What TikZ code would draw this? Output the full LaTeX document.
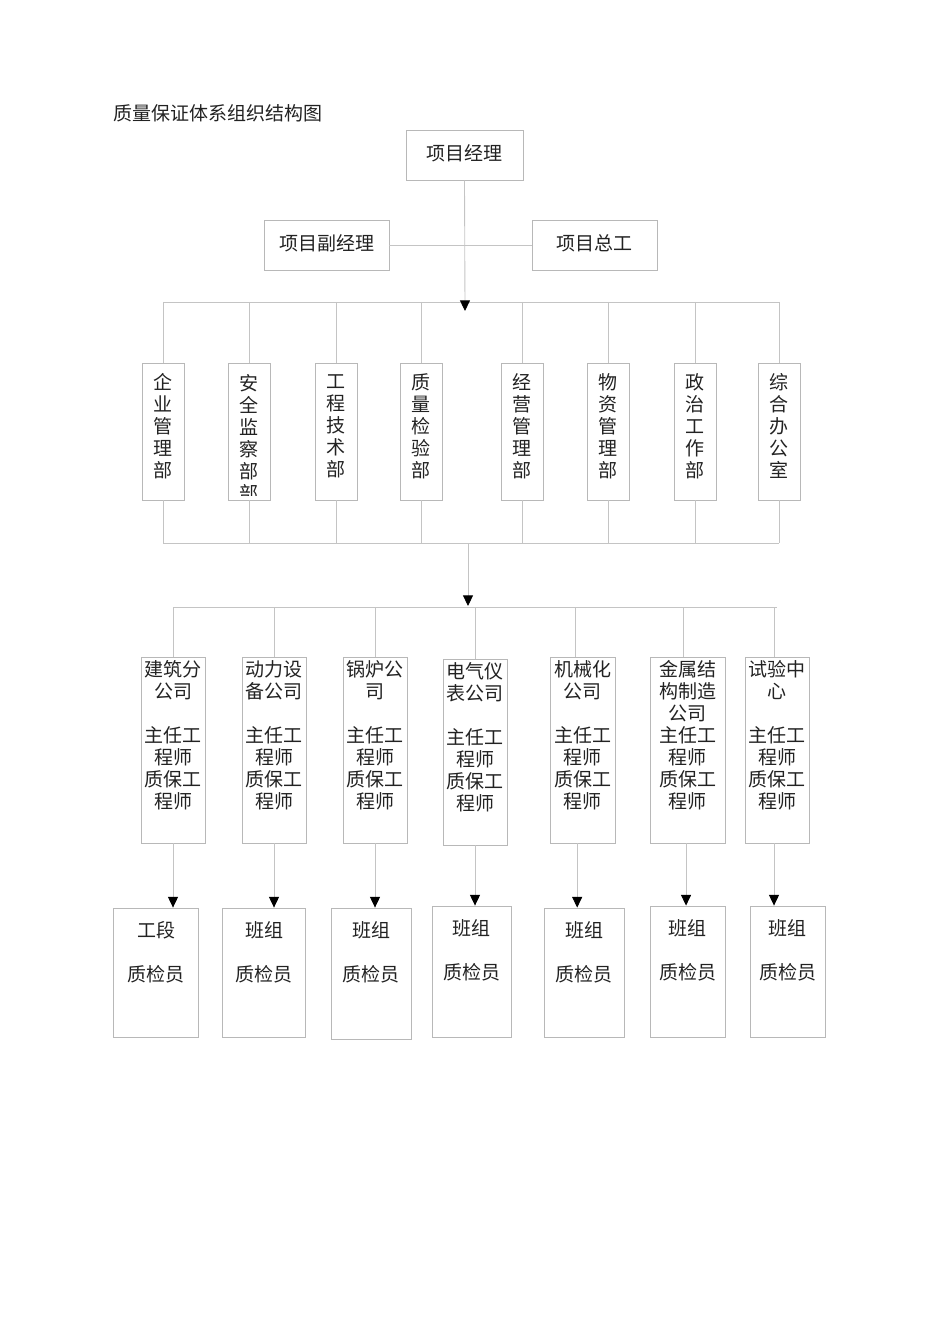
\documentclass[tikz,border=0pt]{standalone}
\usepackage{fontspec}
\setmainfont{Noto Sans CJK SC}
\usetikzlibrary{fit,arrows.meta}
\definecolor{boxgray}{HTML}{B8B8B8}
\definecolor{linegray}{HTML}{C4C4C4}
\definecolor{ink}{HTML}{222222}
\tikzset{
  box/.style={draw=boxgray, line width=0.65pt, inner sep=0pt},
  txt/.style={text=ink, inner sep=0pt, align=center, font=\fontsize{14.25pt}{16.5pt}\selectfont},
  conn/.style={draw=linegray, line width=0.65pt},
  arr/.style={conn, -{Triangle[length=8pt,width=7.5pt,color=black]}}
}
\begin{document}
\begin{tikzpicture}[x=0.75pt,y=-0.75pt]
\useasboundingbox (0,0) rectangle (950,1344);
% title
\node[txt, anchor=west] (title) at (113,113) {质量保证体系组织结构图};
% top level
\node[box, fit={(406,130) (523,180)}] (top) {};
\node[txt] (ttop) at (464.5,153) {项目经理};
\node[box, fit={(264,220) (389,270)}] (dep) {};
\node[txt] (tdep) at (326.5,243) {项目副经理};
\node[box, fit={(532,220) (657,270)}] (chf) {};
\node[txt] (tchf) at (594.5,243) {项目总工};
\draw[conn] (dep.east) -- (chf.west);
\coordinate (bus1) at (465,302);
\coordinate (tip1) at (465,311);
% departments
\node[box, fit={(142,363) (184,500)}] (d1) {};
\node[box, fit={(228,363) (270,500)}] (d2) {};
\node[box, fit={(315,363) (357,500)}] (d3) {};
\node[box, fit={(400,363) (442,500)}] (d4) {};
\node[box, fit={(501,363) (543,500)}] (d5) {};
\node[box, fit={(587,363) (629,500)}] (d6) {};
\node[box, fit={(674,363) (716,500)}] (d7) {};
\node[box, fit={(758,363) (800,500)}] (d8) {};
\node[txt] (td1) at (163,426) {企\\业\\管\\理\\部};
\begin{scope}
\clip (228,363) rectangle (270,495);
\node[txt] (td2) at (249,438) {安\\全\\监\\察\\部\\部};
\end{scope}
\node[txt] (td3) at (336,426) {工\\程\\技\\术\\部};
\node[txt] (td4) at (421,426) {质\\量\\检\\验\\部};
\node[txt] (td5) at (522,426) {经\\营\\管\\理\\部};
\node[txt] (td6) at (608,426) {物\\资\\管\\理\\部};
\node[txt] (td7) at (695,426) {政\\治\\工\\作\\部};
\node[txt] (td8) at (779,426) {综\\合\\办\\公\\室};
\draw[conn] (d1.north |- bus1) -- (d8.north |- bus1);
\foreach \d in {d1,d2,d3,d4,d5,d6,d7,d8}{
  \draw[conn] (\d.north |- bus1) -- (\d.north);
}
\draw[arr] (top.south) -- (tip1);
\coordinate (bus2) at (468,543);
\coordinate (tip2) at (468,606);
\foreach \d in {d1,d2,d3,d4,d5,d6,d7,d8}{
  \draw[conn] (\d.south) -- (\d.south |- bus2);
}
\draw[conn] (d1.south |- bus2) -- (d8.south |- bus2);
% companies
\node[box, fit={(141,657) (205,843)}] (c1) {};
\node[box, fit={(242,657) (306,843)}] (c2) {};
\node[box, fit={(343,657) (407,843)}] (c3) {};
\node[box, fit={(443,659) (507,845)}] (c4) {};
\node[box, fit={(550,657) (615,843)}] (c5) {};
\node[box, fit={(650,657) (725,843)}] (c6) {};
\node[box, fit={(745,657) (809,843)}] (c7) {};
\node[txt] (tc1) at (173,735) {建筑分\\公司\\[16.5pt]主任工\\程师\\质保工\\程师};
\node[txt] (tc2) at (274,735) {动力设\\备公司\\[16.5pt]主任工\\程师\\质保工\\程师};
\node[txt] (tc3) at (375,735) {锅炉公\\司\\[16.5pt]主任工\\程师\\质保工\\程师};
\node[txt] (tc4) at (475,737) {电气仪\\表公司\\[16.5pt]主任工\\程师\\质保工\\程师};
\node[txt] (tc5) at (582.5,735) {机械化\\公司\\[16.5pt]主任工\\程师\\质保工\\程师};
\node[txt] (tc6) at (687.5,735) {金属结\\构制造\\公司\\主任工\\程师\\质保工\\程师};
\node[txt] (tc7) at (777,735) {试验中\\心\\[16.5pt]主任工\\程师\\质保工\\程师};
\coordinate (bus3) at (470,607);
\draw[conn] (c1.north |- bus3) -- (c7.north |- bus3);
\draw[conn] (c1.north |- bus3) -- (c1.north);
\draw[conn] (c2.north |- bus3) -- (c2.north);
\draw[conn] (c3.north |- bus3) -- (c3.north);
\draw[conn] (c4.north |- bus3) -- (c4.north);
\draw[conn] ([xshift=-5.25pt]c5.north |- bus3) -- ([xshift=-5.25pt]c5.north);
\draw[conn] ([xshift=-3.4pt]c6.north |- bus3) -- ([xshift=-3.4pt]c6.north);
\draw[conn] ([xshift=-2.25pt]c7.north |- bus3) -- ([xshift=-2.25pt]c7.north);
\draw[arr] (bus2) -- (tip2);
% bottom boxes
\node[box, fit={(113,908) (198,1037)}] (b1) {};
\node[box, fit={(222,908) (305,1037)}] (b2) {};
\node[box, fit={(331,908) (411,1039)}] (b3) {};
\node[box, fit={(432,906) (511,1037)}] (b4) {};
\node[box, fit={(544,908) (624,1037)}] (b5) {};
\node[box, fit={(650,906) (725,1037)}] (b6) {};
\node[box, fit={(750,906) (825,1037)}] (b7) {};
\node[txt] (tb1) at (156,952) {工段\\[16.5pt]质检员};
\node[txt] (tb2) at (264,952) {班组\\[16.5pt]质检员};
\node[txt] (tb3) at (371,952) {班组\\[16.5pt]质检员};
\node[txt] (tb4) at (471.5,950) {班组\\[16.5pt]质检员};
\node[txt] (tb5) at (584,952) {班组\\[16.5pt]质检员};
\node[txt] (tb6) at (687.5,950) {班组\\[16.5pt]质检员};
\node[txt] (tb7) at (787.5,950) {班组\\[16.5pt]质检员};
\draw[arr] (c1.south) -- (c1.south |- b1.north);
\draw[arr] (c2.south) -- (c2.south |- b2.north);
\draw[arr] (c3.south) -- (c3.south |- b3.north);
\draw[arr] (c4.south) -- (c4.south |- b4.north);
\draw[arr] ([xshift=-4pt]c5.south) -- ([xshift=-4pt]c5.south |- b5.north);
\draw[arr] ([xshift=-1.1pt]c6.south) -- ([xshift=-1.1pt]c6.south |- b6.north);
\draw[arr] ([xshift=-2.25pt]c7.south) -- ([xshift=-2.25pt]c7.south |- b7.north);
\end{tikzpicture}
\end{document}
